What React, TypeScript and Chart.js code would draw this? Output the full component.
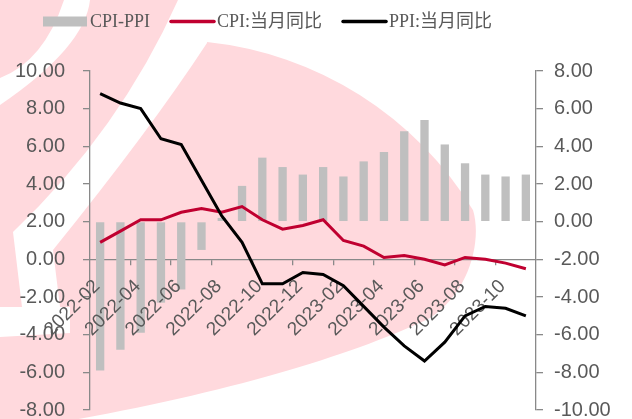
import React, { useEffect, useRef } from 'react';
import { Chart, registerables } from 'chart.js';

Chart.register(...registerables);

const months = [
  '2022-02', '2022-03', '2022-04', '2022-05', '2022-06', '2022-07', '2022-08', '2022-09',
  '2022-10', '2022-11', '2022-12', '2023-01', '2023-02', '2023-03', '2023-04', '2023-05',
  '2023-06', '2023-07', '2023-08', '2023-09', '2023-10', '2023-11',
];
const cpiValues = [0.9, 1.5, 2.1, 2.1, 2.5, 2.7, 2.5, 2.8, 2.1, 1.6, 1.8, 2.1, 1.0, 0.7, 0.1, 0.2, 0.0, -0.3, 0.1, 0.0, -0.2, -0.5];
const ppiValues = [8.8, 8.3, 8.0, 6.4, 6.1, 4.2, 2.3, 0.9, -1.3, -1.3, -0.7, -0.8, -1.4, -2.5, -3.6, -4.6, -5.4, -4.4, -3.0, -2.5, -2.6, -3.0];
const spreadValues = [-7.9, -6.8, -5.9, -4.3, -3.6, -1.5, 0.2, 1.9, 3.4, 2.9, 2.5, 2.9, 2.4, 3.2, 3.7, 4.8, 5.4, 4.1, 3.1, 2.5, 2.4, 2.5];

const seriesNames = ['CPI-PPI', 'CPI:当月同比', 'PPI:当月同比'];
const leftTicks = { min: -8, max: 10, step: 2 };
const rightTicks = { min: -10, max: 8, step: 2 };

const BAR_COLOR = '#BFBFBF';
const CPI_COLOR = '#C00030';
const PPI_COLOR = '#000000';
const AXIS_COLOR = '#898989';
const TEXT_COLOR = '#595959';
const PINK = '#FFD9DD';
const SANS = '"Liberation Sans", Arial, sans-serif';
const SERIF = '"Liberation Serif", "Noto Sans CJK SC", serif';
const LABEL_DX = -3;

const backgroundPlugin = {
  id: 'watermark',
  beforeDraw(chart: any) {
    const ctx = chart.ctx;
    ctx.save();
    ctx.fillStyle = '#ffffff';
    ctx.fillRect(0, 0, chart.width, chart.height);
    ctx.fillStyle = PINK;
    // upper-left region
    ctx.beginPath();
    ctx.moveTo(0, 0);
    ctx.lineTo(178, 0);
    ctx.quadraticCurveTo(120, 130, 13, 232);
    ctx.lineTo(22, 307);
    ctx.lineTo(0, 307);
    ctx.closePath();
    ctx.fill();
    // big swoosh
    const cx = 170, cy = 395, r = 355;
    const a0 = Math.atan2(43 - cy, 207 - cx);
    const a1 = Math.atan2(212 - cy, 470 - cx);
    ctx.beginPath();
    ctx.moveTo(207, 43);
    ctx.arc(cx, cy, r, a0, a1, false);
    ctx.bezierCurveTo(482, 240, 470, 292, 430, 318);
    ctx.bezierCurveTo(350, 357, 200, 402, 0, 432);
    ctx.lineTo(0, 337);
    ctx.lineTo(70, 333);
    ctx.lineTo(70, 307);
    ctx.lineTo(60, 307);
    ctx.lineTo(53, 250);
    ctx.quadraticCurveTo(150, 130, 207, 43);
    ctx.closePath();
    ctx.fill();
    // white band in the corner
    ctx.fillStyle = '#ffffff';
    ctx.beginPath();
    ctx.moveTo(64, 0);
    ctx.lineTo(90, 0);
    ctx.quadraticCurveTo(85, 47, 0, 105);
    ctx.lineTo(0, 78);
    ctx.quadraticCurveTo(44, 61, 64, 0);
    ctx.closePath();
    ctx.fill();
    ctx.restore();
  },
};

// category labels drawn above the bars but beneath the lines
const categoryLabelPlugin = {
  id: 'categoryLabels',
  afterDatasetDraw(chart: any, args: any) {
    if (args.index !== 0) return;
    const scale = chart.scales.x;
    const items = scale.getLabelItems(chart.chartArea);
    const ctx = chart.ctx;
    for (const item of items) {
      const o = item.options;
      const lines = Array.isArray(item.label) ? item.label : [item.label];
      ctx.save();
      ctx.translate(o.translation[0] + LABEL_DX, o.translation[1]);
      ctx.rotate(o.rotation);
      ctx.font = item.font.string;
      ctx.fillStyle = TEXT_COLOR;
      ctx.textAlign = o.textAlign;
      ctx.textBaseline = o.textBaseline;
      let y = item.textOffset;
      for (const line of lines) {
        if (line) ctx.fillText(String(line), 0, y);
        y += item.font.lineHeight;
      }
      ctx.restore();
    }
  },
};

const legendPlugin = {
  id: 'customLegend',
  afterDraw(chart: any) {
    const ctx = chart.ctx;
    ctx.save();
    ctx.font = `18px ${SERIF}`;
    ctx.textBaseline = 'middle';
    let x = 43;
    const yMid = 21.5;
    chart.data.datasets.forEach((ds: any) => {
      if (ds.type === 'bar') {
        ctx.fillStyle = ds.backgroundColor;
        ctx.fillRect(x, yMid - 5, 44, 10);
      } else {
        ctx.strokeStyle = ds.borderColor;
        ctx.lineWidth = 3.5;
        ctx.lineCap = 'round';
        ctx.beginPath();
        ctx.moveTo(x + 1, yMid);
        ctx.lineTo(x + 44, yMid);
        ctx.stroke();
      }
      x += 47;
      ctx.fillStyle = TEXT_COLOR;
      ctx.fillText(ds.label, x, yMid + 1);
      x += ctx.measureText(ds.label).width + 20;
    });
    ctx.restore();
  },
};

export default function App() {
  const canvasRef = useRef<HTMLCanvasElement | null>(null);

  useEffect(() => {
    if (!canvasRef.current) return;
    const fmt = (v: any) => Number(v).toFixed(2);
    const chart = new Chart(canvasRef.current, {
      type: 'bar',
      data: {
        labels: months,
        datasets: [
          {
            type: 'bar',
            label: seriesNames[0],
            data: spreadValues,
            backgroundColor: BAR_COLOR,
            yAxisID: 'y1',
            barPercentage: 0.41,
            categoryPercentage: 1,
            order: 3,
          },
          {
            type: 'line',
            label: seriesNames[1],
            data: cpiValues,
            borderColor: CPI_COLOR,
            backgroundColor: CPI_COLOR,
            borderWidth: 3,
            pointRadius: 0,
            tension: 0,
            yAxisID: 'y',
            order: 2,
          },
          {
            type: 'line',
            label: seriesNames[2],
            data: ppiValues,
            borderColor: PPI_COLOR,
            backgroundColor: PPI_COLOR,
            borderWidth: 3,
            pointRadius: 0,
            tension: 0,
            yAxisID: 'y',
            order: 1,
          },
        ] as any,
      },
      options: {
        responsive: false,
        animation: false,
        devicePixelRatio: 1,
        layout: { padding: { top: 71, bottom: 9, left: 0, right: 0 }, autoPadding: false },
        plugins: { legend: { display: false }, tooltip: { enabled: false } },
        scales: {
          x: {
            type: 'category',
            position: { y: 0 } as any,
            offset: true,
            grid: {
              offset: true,
              drawOnChartArea: false,
              drawTicks: true,
              tickLength: 5,
              lineWidth: 1.3,
              color: (c: any) => (c.index > 0 && c.index % 2 === 0 ? AXIS_COLOR : 'rgba(0,0,0,0)'),
            },
            border: { display: true, color: AXIS_COLOR, width: 1.3 },
            ticks: {
              display: false,
              autoSkip: false,
              maxRotation: 45,
              minRotation: 45,
              padding: 11,
              color: TEXT_COLOR,
              font: { family: SANS, size: 19 },
              callback: (_v: any, i: number) => (i % 2 === 0 ? months[i] : ''),
            },
          },
          y: {
            position: 'left',
            min: leftTicks.min,
            max: leftTicks.max,
            grid: { drawOnChartArea: false, tickLength: 7, color: AXIS_COLOR, lineWidth: 1.3 },
            border: { color: AXIS_COLOR, width: 1.3 },
            ticks: {
              stepSize: leftTicks.step,
              padding: 18,
              color: TEXT_COLOR,
              font: { family: SANS, size: 20 },
              callback: fmt,
            },
            afterFit: (s: any) => {
              s.width = 90;
              s.paddingTop = 0;
              s.paddingBottom = 0;
            },
          },
          y1: {
            position: 'right',
            min: rightTicks.min,
            max: rightTicks.max,
            grid: { drawOnChartArea: false, tickLength: 7, color: AXIS_COLOR, lineWidth: 1.3 },
            border: { color: AXIS_COLOR, width: 1.3 },
            ticks: {
              stepSize: rightTicks.step,
              padding: 11,
              color: TEXT_COLOR,
              font: { family: SANS, size: 20 },
              callback: fmt,
            },
            afterFit: (s: any) => {
              s.width = 96;
              s.paddingTop = 0;
              s.paddingBottom = 0;
            },
          },
        },
      } as any,
      plugins: [backgroundPlugin, categoryLabelPlugin, legendPlugin],
    });
    return () => chart.destroy();
  }, []);

  return (
    <div style={{ position: 'absolute', left: 0, top: 0, width: 632, height: 419 }}>
      <canvas ref={canvasRef} width={632} height={419} style={{ display: 'block' }} />
    </div>
  );
}
